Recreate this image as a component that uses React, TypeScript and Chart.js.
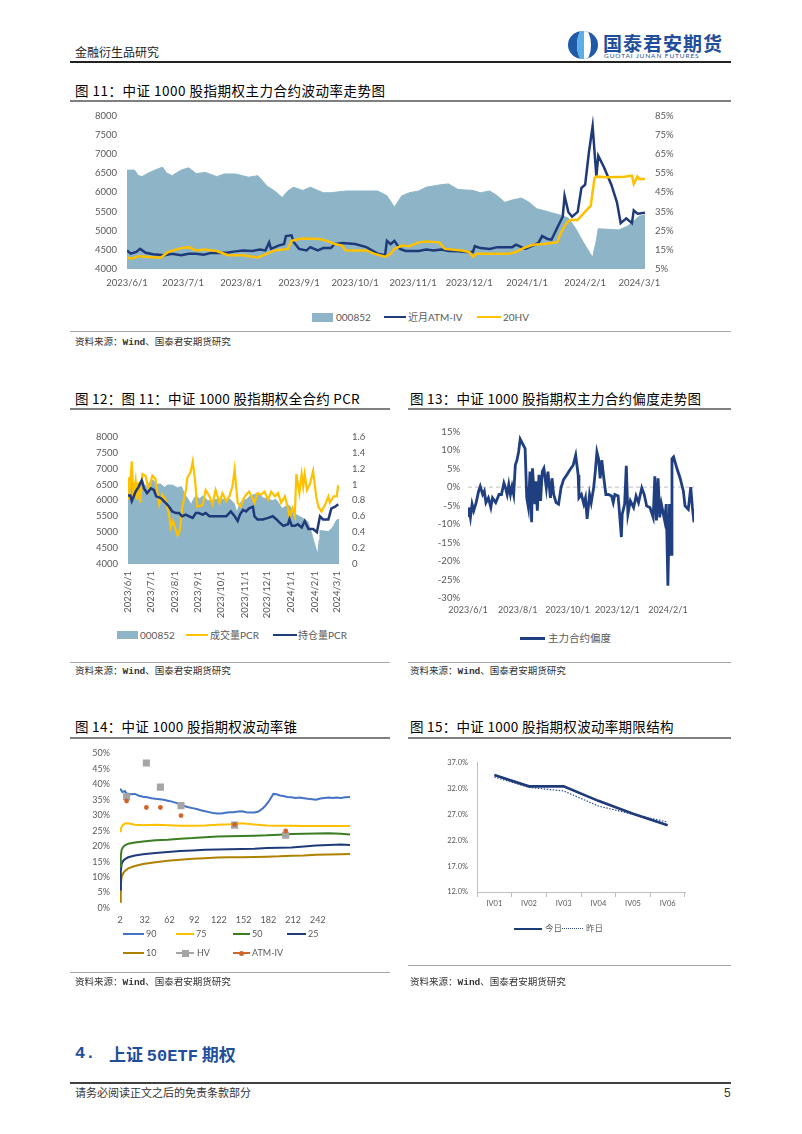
import React, { useEffect, useRef } from "react";
import { Chart, registerables } from "chart.js";

Chart.register(...registerables);

// ---------------- data ----------------
// Chart 11 / 12: CSI 1000 index (000852)
const idxDates = ["2023/6/1","2023/6/5","2023/6/7","2023/6/9","2023/6/13","2023/6/19","2023/6/20","2023/6/22","2023/6/25","2023/6/30","2023/7/4","2023/7/8","2023/7/13","2023/7/19","2023/7/23","2023/7/29","2023/8/5","2023/8/10","2023/8/15","2023/8/19","2023/8/23","2023/8/26","2023/8/29","2023/9/3","2023/9/7","2023/9/14","2023/9/18","2023/9/26","2023/10/13","2023/10/18","2023/10/22","2023/10/26","2023/10/30","2023/11/4","2023/11/8","2023/11/16","2023/11/20","2023/11/25","2023/12/3","2023/12/7","2023/12/12","2023/12/16","2023/12/20","2023/12/24","2023/12/29","2024/1/2","2024/1/6","2024/1/14","2024/1/19","2024/1/23","2024/1/27","2024/1/31","2024/2/5","2024/2/7","2024/2/8","2024/2/19","2024/2/23","2024/2/26","2024/2/28","2024/3/1","2024/3/4"];
const idxValues = [6580,6580,6440,6410,6520,6640,6660,6510,6435,6580,6640,6490,6520,6410,6480,6480,6395,6435,6160,6035,5865,6035,6135,6050,6135,5990,5990,6035,6035,5910,5615,5910,5990,6035,6135,6200,6220,6075,6050,5990,6035,5910,5740,5800,5850,5740,5575,5470,5400,5330,5050,4700,4300,4750,5050,5020,5100,5200,5300,5380,5405];

// Chart 11: near-month ATM implied vol (%)
const ivDates = ["2023/6/1","2023/6/3","2023/6/6","2023/6/8","2023/6/11","2023/6/15","2023/6/21","2023/6/25","2023/6/30","2023/7/4","2023/7/8","2023/7/12","2023/7/16","2023/7/21","2023/7/25","2023/7/29","2023/8/2","2023/8/7","2023/8/11","2023/8/14","2023/8/16","2023/8/17","2023/8/21","2023/8/24","2023/8/25","2023/8/28","2023/8/29","2023/9/1","2023/9/5","2023/9/7","2023/9/11","2023/9/14","2023/9/18","2023/9/20","2023/9/24","2023/10/1","2023/10/7","2023/10/13","2023/10/17","2023/10/18","2023/10/20","2023/10/22","2023/10/25","2023/10/28","2023/11/4","2023/11/8","2023/11/12","2023/11/16","2023/11/20","2023/11/25","2023/11/29","2023/12/3","2023/12/4","2023/12/7","2023/12/12","2023/12/16","2023/12/20","2023/12/24","2023/12/26","2023/12/31","2024/1/4","2024/1/7","2024/1/9","2024/1/12","2024/1/14","2024/1/17","2024/1/20","2024/1/21","2024/1/23","2024/1/25","2024/1/28","2024/1/30","2024/2/1","2024/2/3","2024/2/5","2024/2/7","2024/2/8","2024/2/11","2024/2/15","2024/2/18","2024/2/20","2024/2/23","2024/2/26","2024/2/27","2024/2/29","2024/3/4"];
const ivValues = [14.7,13.0,13.9,15.5,13.5,12.7,12.2,13.0,12.2,13.0,13.0,12.5,13.4,13.4,13.6,14.2,14.7,14.4,15.2,14.7,18.9,15.5,17.2,18.0,22.2,22.6,19.2,15.5,14.7,16.4,14.7,15.9,15.9,18.0,18.6,18.0,16.4,13.0,12.2,19.7,18.0,19.7,15.5,14.4,14.4,15.2,14.7,15.2,14.4,14.2,13.9,13.9,16.9,15.9,15.5,16.4,16.4,16.4,17.7,15.5,17.2,18.6,22.2,20.6,20.3,26.4,32.3,43.2,34.8,32.3,34.8,47.3,49.0,65.8,79.5,53.2,64.1,58.2,49.0,39.8,28.9,31.4,28.9,35.6,33.9,34.3];

// Chart 11: 20-day historical vol (%)
const hvDates = ["2023/6/1","2023/6/4","2023/6/7","2023/6/13","2023/6/19","2023/6/23","2023/6/30","2023/7/4","2023/7/8","2023/7/12","2023/7/19","2023/7/25","2023/8/2","2023/8/10","2023/8/15","2023/8/19","2023/8/26","2023/8/28","2023/9/1","2023/9/5","2023/9/12","2023/9/16","2023/9/20","2023/9/24","2023/9/26","2023/10/7","2023/10/11","2023/10/17","2023/10/20","2023/10/22","2023/10/26","2023/10/30","2023/11/4","2023/11/8","2023/11/15","2023/11/18","2023/11/27","2023/12/1","2023/12/3","2023/12/5","2023/12/16","2023/12/22","2023/12/26","2023/12/30","2024/1/4","2024/1/10","2024/1/17","2024/1/19","2024/1/22","2024/1/24","2024/1/28","2024/1/31","2024/2/4","2024/2/6","2024/2/7","2024/2/13","2024/2/22","2024/2/26","2024/2/27","2024/2/29","2024/3/1","2024/3/4"];
const hvValues = [10.9,10.5,11.7,11.2,10.9,13.9,15.9,16.4,14.7,15.2,14.4,12.2,12.2,11.0,13.0,14.7,15.5,19.7,20.6,20.9,20.6,19.7,18.0,17.2,14.7,14.7,13.0,11.4,13.0,15.5,17.2,16.9,18.9,19.4,18.9,15.5,14.7,13.9,11.4,13.0,13.0,13.0,13.9,15.9,17.6,18.0,18.9,23.9,28.9,30.6,30.6,33.9,38.1,52.4,53.2,52.9,53.2,53.7,49.4,53.2,52.0,52.0];

const monthTicks = ["2023/6/1","2023/7/1","2023/8/1","2023/9/1","2023/10/1","2023/11/1","2023/12/1","2024/1/1","2024/2/1","2024/3/1"];

// Chart 12: PCR
const pcrVolDates = ["2023/6/1","2023/6/2","2023/6/4","2023/6/6","2023/6/8","2023/6/11","2023/6/13","2023/6/15","2023/6/17","2023/6/20","2023/6/24","2023/6/28","2023/7/3","2023/7/7","2023/7/12","2023/7/16","2023/7/20","2023/7/25","2023/7/27","2023/7/30","2023/8/3","2023/8/5","2023/8/8","2023/8/11","2023/8/16","2023/8/18","2023/8/22","2023/8/25","2023/8/28","2023/8/31","2023/9/7","2023/9/11","2023/9/16","2023/9/20","2023/9/24","2023/9/29","2023/10/3","2023/10/8","2023/10/12","2023/10/16","2023/10/19","2023/10/21","2023/10/23","2023/10/27","2023/10/30","2023/11/3","2023/11/7","2023/11/12","2023/11/14","2023/11/18","2023/11/23","2023/11/27","2023/12/2","2023/12/6","2023/12/11","2023/12/15","2023/12/19","2023/12/24","2023/12/28","2023/12/30","2024/1/3","2024/1/6","2024/1/8","2024/1/12","2024/1/15","2024/1/17","2024/1/19","2024/1/22","2024/1/26","2024/1/30","2024/2/3","2024/2/6","2024/2/10","2024/2/15","2024/2/19","2024/2/21","2024/2/26","2024/3/1","2024/3/3"];
const pcrVolValues = [1.09,0.81,1.03,1.29,0.85,1.05,0.81,1.03,0.77,1.13,1.11,0.93,1.11,1.07,0.75,0.87,0.81,0.62,0.46,0.54,0.42,0.36,0.42,0.70,0.93,1.09,1.15,1.29,1.05,0.72,0.74,0.93,0.85,0.75,0.93,0.77,0.89,0.79,0.85,0.97,1.19,0.97,0.77,0.72,0.81,0.87,0.91,0.81,0.77,0.89,0.87,0.91,0.81,0.91,0.85,0.89,0.77,0.85,0.70,0.60,0.70,0.60,1.13,0.89,1.13,0.97,1.13,0.93,1.01,1.17,0.85,0.72,0.66,0.75,0.85,0.77,0.85,0.85,0.99];
const pcrOiDates = ["2023/6/1","2023/6/4","2023/6/6","2023/6/11","2023/6/15","2023/6/19","2023/6/22","2023/6/26","2023/7/1","2023/7/5","2023/7/8","2023/7/14","2023/7/20","2023/7/25","2023/7/29","2023/8/3","2023/8/7","2023/8/11","2023/8/16","2023/8/20","2023/8/25","2023/8/29","2023/9/2","2023/9/7","2023/9/11","2023/9/16","2023/9/20","2023/9/29","2023/10/8","2023/10/14","2023/10/19","2023/10/23","2023/10/26","2023/10/30","2023/11/3","2023/11/7","2023/11/12","2023/11/14","2023/11/18","2023/11/25","2023/12/2","2023/12/8","2023/12/13","2023/12/17","2023/12/22","2023/12/28","2023/12/30","2024/1/2","2024/1/6","2024/1/10","2024/1/15","2024/1/19","2024/1/24","2024/1/30","2024/2/4","2024/2/8","2024/2/12","2024/2/19","2024/2/23","2024/2/28","2024/3/3"];
const pcrOiValues = [0.86,0.86,0.79,0.91,0.97,1.05,0.95,0.89,0.95,0.93,0.85,0.83,0.77,0.72,0.66,0.64,0.64,0.60,0.62,0.60,0.58,0.64,0.64,0.62,0.64,0.60,0.60,0.60,0.60,0.66,0.60,0.54,0.62,0.68,0.66,0.70,0.72,0.60,0.56,0.56,0.58,0.60,0.56,0.52,0.48,0.50,0.56,0.48,0.48,0.50,0.46,0.54,0.44,0.44,0.40,0.60,0.56,0.56,0.70,0.72,0.75];

// Chart 13: main contract skew (%)
const skewDates = ["2023/6/1","2023/6/2","2023/6/4","2023/6/6","2023/6/8","2023/6/11","2023/6/14","2023/6/16","2023/6/19","2023/6/21","2023/6/23","2023/6/26","2023/6/29","2023/7/1","2023/7/5","2023/7/9","2023/7/12","2023/7/15","2023/7/17","2023/7/19","2023/7/21","2023/7/23","2023/7/25","2023/7/27","2023/7/29","2023/7/31","2023/8/2","2023/8/4","2023/8/7","2023/8/10","2023/8/12","2023/8/14","2023/8/16","2023/8/18","2023/8/19","2023/8/22","2023/8/23","2023/8/25","2023/8/27","2023/8/29","2023/8/31","2023/9/2","2023/9/5","2023/9/7","2023/9/10","2023/9/12","2023/9/14","2023/9/17","2023/9/20","2023/9/23","2023/9/26","2023/9/30","2023/10/4","2023/10/8","2023/10/11","2023/10/14","2023/10/15","2023/10/18","2023/10/21","2023/10/23","2023/10/25","2023/10/28","2023/10/30","2023/11/2","2023/11/4","2023/11/6","2023/11/8","2023/11/10","2023/11/12","2023/11/14","2023/11/17","2023/11/20","2023/11/24","2023/11/26","2023/11/28","2023/12/2","2023/12/6","2023/12/7","2023/12/10","2023/12/12","2023/12/14","2023/12/17","2023/12/21","2023/12/24","2023/12/27","2023/12/31","2024/1/3","2024/1/6","2024/1/10","2024/1/14","2024/1/16","2024/1/18","2024/1/20","2024/1/22","2024/1/24","2024/1/28","2024/1/30","2024/2/1","2024/2/3","2024/2/5","2024/2/6","2024/2/8","2024/2/12","2024/2/16","2024/2/20","2024/2/22","2024/2/26","2024/2/29","2024/3/2","2024/3/4"];
const skewValues = [-7.7,-5.5,-8.2,-4.6,-6.4,-4.2,-1.1,0.2,-2.0,-1.1,-4.2,-2.9,-5.5,-2.9,-4.2,-2.0,-2.0,1.1,-0.2,-2.0,0.7,-2.0,0.2,-2.0,6.0,7.3,9.5,13.0,11.7,10.4,-2.9,-5.5,4.2,-9.5,5.1,-4.6,1.6,-6.4,3.3,-3.7,4.2,5.1,-0.2,4.2,-2.9,2.4,-2.0,-4.2,-4.6,-0.2,2.0,3.3,4.7,6.0,8.6,3.3,-2.9,-2.0,-4.6,-2.9,-8.6,-2.0,-4.2,-0.2,4.2,9.5,7.7,2.4,7.3,3.3,-2.0,-2.0,-2.4,-4.2,-2.0,-2.4,-13.5,-7.3,-4.6,5.8,-7.3,-3.7,-5.5,-2.4,-4.2,-0.2,-2.0,-5.1,-5.5,-8.2,2.9,-9.0,2.4,-8.2,-4.6,-9.0,-4.6,-26.7,-4.6,-18.2,7.7,8.2,5.1,2.4,-1.1,-5.1,-6.0,0.0,-5.5,-9.5];
const skewTicks = ["2023/6/1","2023/8/1","2023/10/1","2023/12/1","2024/2/1"];

// Chart 14: volatility cone (days to expiry, %)
const coneTicks = [2, 32, 62, 92, 122, 152, 182, 212, 242];
const cone90Days = [2,5,8,10,15,20,25,30,35,40,45,50,55,60,65,70,75,80,85,90,95,100,105,110,115,120,125,130,135,140,145,150,155,160,165,170,175,178,182,185,188,192,196,200,205,210,215,220,225,230,235,240,245,250,255,260,265,270,275,281];
const cone90 = [38.6,37.5,37.8,37.0,36.8,36.9,36.3,36.0,35.8,35.5,35.3,35.2,35.0,34.7,34.4,34.0,33.5,33.0,32.6,32.3,32.0,31.6,31.3,31.0,30.7,30.6,30.6,30.8,31.0,31.0,31.2,31.3,31.0,30.9,30.9,31.2,32.2,33.0,34.3,35.6,36.9,36.8,36.4,36.2,35.9,35.8,35.6,35.7,35.5,35.3,35.2,35.0,35.4,35.6,35.7,35.6,35.7,35.6,35.8,35.9];
const coneDays = [2,3,4,6,8,12,20,30,45,60,75,90,105,120,135,150,165,180,195,210,225,240,255,270,281];
const cone75 = [24.8,25.6,26.3,27.0,27.3,27.4,26.9,26.8,26.9,26.8,26.6,26.6,26.7,26.9,27.1,27.4,27.0,26.7,26.6,26.6,26.5,26.5,26.5,26.5,26.5];
const cone50 = [13.5,17.0,18.8,19.8,20.3,20.8,21.2,21.5,21.9,22.1,22.4,22.6,22.9,23.1,23.2,23.3,23.4,23.5,23.7,23.9,24.0,24.1,24.2,24.0,23.8];
const cone25 = [6.0,12.0,14.3,15.3,15.8,16.4,17.0,17.4,17.8,18.1,18.4,18.6,18.8,18.9,19.0,19.1,19.2,19.4,19.5,19.6,19.9,20.2,20.4,20.5,20.4];
const cone10 = [2.0,7.5,10.0,11.3,12.0,12.8,13.6,14.2,14.8,15.3,15.6,15.9,16.1,16.3,16.4,16.4,16.5,16.6,16.7,16.9,17.0,17.2,17.3,17.4,17.5];
const coneMarkDays = [10, 34, 51, 76, 141, 203];
const coneHV = [36.0, 46.9, 39.1, 33.1, 26.8, 23.5];
const coneATM = [34.6, 32.5, 32.5, 29.9, 27.0, 24.9];

// Chart 15: term structure (%)
const termLabels = ["IV01", "IV02", "IV03", "IV04", "IV05", "IV06"];
const termToday = [34.6, 32.4, 32.4, 29.6, 27.1, 24.9];
const termYesterday = [34.2, 32.2, 31.5, 28.6, 27.0, 25.5];

// ---------------- helpers ----------------
const BASE = Date.UTC(2023, 5, 1);
function dayOf(s: string): number {
  const [y, m, d] = s.split("/").map(Number);
  return Math.round((Date.UTC(y, m - 1, d) - BASE) / 86400000);
}
function fmtDay(v: number): string {
  const dt = new Date(BASE + Math.round(v) * 86400000);
  return `${dt.getUTCFullYear()}/${dt.getUTCMonth() + 1}/${dt.getUTCDate()}`;
}
const datePts = (dates: string[], vals: number[]) => dates.map((d, i) => ({ x: dayOf(d), y: vals[i] }));
const numPts = (xs: number[], vals: number[]) => xs.map((x, i) => ({ x, y: vals[i] }));

const NAVY = "#1F3A78";
const GOLD = "#FFC000";
const AREA = "#8DB5C7";
const TICK = "#595959";
const BLUE = "#4472C4";
const GREEN = "#3A7D22";
const BROWN = "#AE8200";
const GRAY = "#A5A5A5";
const ORANGE = "#D0652C";
const CJK = '"Noto Sans CJK SC", sans-serif';
const LAT = 'Lato, "Noto Sans CJK SC", sans-serif';

Chart.defaults.font.family = LAT;
Chart.defaults.color = TICK;

const fixW = (w: number) => (s: any) => { s.width = w; };
const fixH = (h: number) => (s: any) => { s.height = h; };
const NOGRID = { display: false, drawTicks: false };
const OFF = { display: false };
const plain = (v: any) => String(v);

function baseOpts(padding: any) {
  return {
    responsive: false,
    maintainAspectRatio: false,
    animation: false,
    layout: { padding },
    plugins: { legend: { display: false }, tooltip: { enabled: false } },
    elements: { point: { radius: 0 }, line: { tension: 0 } },
  };
}

const zeroLine = {
  id: "zeroLine",
  beforeDatasetsDraw(chart: any) {
    const { ctx, chartArea, scales } = chart;
    const py = scales.y.getPixelForValue(0);
    ctx.save();
    ctx.strokeStyle = "#BFBFBF";
    ctx.lineWidth = 1;
    ctx.setLineDash([4, 3]);
    ctx.beginPath();
    ctx.moveTo(chartArea.left, py);
    ctx.lineTo(chartArea.right, py);
    ctx.stroke();
    ctx.restore();
  },
};

// ---------------- chart configs ----------------
function cfg11(): any {
  const last = dayOf(idxDates[idxDates.length - 1]);
  return {
    type: "line",
    data: {
      datasets: [
        { label: "20HV", data: datePts(hvDates, hvValues), yAxisID: "y1", borderColor: GOLD, borderWidth: 2.5, order: 1 },
        { label: "近月ATM-IV", data: datePts(ivDates, ivValues), yAxisID: "y1", borderColor: NAVY, borderWidth: 2.5, order: 2 },
        { label: "000852", data: datePts(idxDates, idxValues), yAxisID: "y", borderColor: AREA, borderWidth: 1, backgroundColor: AREA, fill: "start", order: 3 },
      ],
    },
    options: {
      ...baseOpts({ top: 10, left: 0, right: 0, bottom: 0 }),
      scales: {
        x: {
          type: "linear", min: 0, max: last,
          afterBuildTicks: (s: any) => { s.ticks = monthTicks.map((d) => ({ value: dayOf(d) })); },
          ticks: { autoSkip: false, maxRotation: 0, padding: 8, font: { size: 9.5 }, callback: (v: any) => fmtDay(v) },
          grid: NOGRID, border: OFF, afterFit: fixH(26),
        },
        y: {
          position: "left", min: 4000, max: 8000,
          ticks: { stepSize: 500, padding: 10, font: { size: 9.5 }, callback: plain },
          grid: NOGRID, border: OFF, afterFit: fixW(52),
        },
        y1: {
          position: "right", min: 5, max: 85,
          ticks: { stepSize: 10, padding: 10, font: { size: 9.5 }, callback: (v: any) => `${v}%` },
          grid: NOGRID, border: OFF, afterFit: fixW(50),
        },
      },
    },
  };
}

function cfg12(): any {
  const last = dayOf(idxDates[idxDates.length - 1]);
  return {
    type: "line",
    data: {
      datasets: [
        { label: "持仓量PCR", data: datePts(pcrOiDates, pcrOiValues), yAxisID: "y1", borderColor: NAVY, borderWidth: 2.5, order: 1 },
        { label: "成交量PCR", data: datePts(pcrVolDates, pcrVolValues), yAxisID: "y1", borderColor: GOLD, borderWidth: 2.2, order: 2 },
        { label: "000852", data: datePts(idxDates, idxValues), yAxisID: "y", borderColor: AREA, borderWidth: 1, backgroundColor: AREA, fill: "start", order: 3 },
      ],
    },
    options: {
      ...baseOpts({ top: 10, left: 0, right: 0, bottom: 0 }),
      scales: {
        x: {
          type: "linear", min: 0, max: last,
          afterBuildTicks: (s: any) => { s.ticks = monthTicks.map((d) => ({ value: dayOf(d) })); },
          ticks: { autoSkip: false, minRotation: 90, maxRotation: 90, padding: 7, font: { size: 9.5 }, callback: (v: any) => fmtDay(v) },
          grid: NOGRID, border: OFF, afterFit: fixH(56),
        },
        y: {
          position: "left", min: 4000, max: 8000,
          ticks: { stepSize: 500, padding: 10, font: { size: 9.5 }, callback: plain },
          grid: NOGRID, border: OFF, afterFit: fixW(53),
        },
        y1: {
          position: "right", min: 0, max: 1.6,
          ticks: { stepSize: 0.2, padding: 13, font: { size: 9.5 }, callback: (v: any) => (Math.abs(v) < 1e-9 ? "0" : Number(v).toFixed(1).replace(/\.0$/, "")) },
          grid: NOGRID, border: OFF, afterFit: fixW(36),
        },
      },
    },
  };
}

function cfg13(): any {
  const last = dayOf(skewDates[skewDates.length - 1]);
  return {
    type: "line",
    data: {
      datasets: [
        { label: "主力合约偏度", data: datePts(skewDates, skewValues), borderColor: "#203F80", borderWidth: 2.8 },
      ],
    },
    options: {
      ...baseOpts({ top: 9, left: 0, right: 11, bottom: 0 }),
      scales: {
        x: {
          type: "linear", min: 0, max: last,
          afterBuildTicks: (s: any) => { s.ticks = skewTicks.map((d) => ({ value: dayOf(d) })); },
          ticks: { autoSkip: false, maxRotation: 0, padding: 7, font: { size: 9 }, callback: (v: any) => fmtDay(v) },
          grid: NOGRID, border: OFF, afterFit: fixH(22),
        },
        y: {
          min: -30, max: 15,
          ticks: { stepSize: 5, padding: 8, font: { size: 9.5 }, callback: (v: any) => `${v}%` },
          grid: NOGRID, border: OFF, afterFit: fixW(63),
        },
      },
    },
    plugins: [zeroLine],
  };
}

function cfg14(): any {
  return {
    type: "line",
    data: {
      datasets: [
        { label: "ATM-IV", data: numPts(coneMarkDays, coneATM), showLine: false, pointStyle: "circle", pointRadius: 2.4, pointBackgroundColor: ORANGE, pointBorderWidth: 0, order: 1 },
        { label: "HV", data: numPts(coneMarkDays, coneHV), showLine: false, pointStyle: "rect", pointRadius: 5, pointBackgroundColor: GRAY, pointBorderWidth: 0, order: 2 },
        { label: "90", data: numPts(cone90Days, cone90), borderColor: BLUE, borderWidth: 2, order: 3 },
        { label: "75", data: numPts(coneDays, cone75), borderColor: GOLD, borderWidth: 2, order: 4 },
        { label: "50", data: numPts(coneDays, cone50), borderColor: GREEN, borderWidth: 2, order: 5 },
        { label: "25", data: numPts(coneDays, cone25), borderColor: NAVY, borderWidth: 2, order: 6 },
        { label: "10", data: numPts(coneDays, cone10), borderColor: BROWN, borderWidth: 2, order: 7 },
      ],
    },
    options: {
      ...baseOpts({ top: 9, left: 0, right: 10, bottom: 0 }),
      scales: {
        x: {
          type: "linear", min: 2, max: 281,
          afterBuildTicks: (s: any) => { s.ticks = coneTicks.map((v) => ({ value: v })); },
          ticks: { autoSkip: false, maxRotation: 0, padding: 7, font: { size: 9 }, callback: plain },
          grid: NOGRID, border: OFF, afterFit: fixH(22),
        },
        y: {
          min: 0, max: 50,
          ticks: { stepSize: 5, padding: 10, font: { size: 9 }, callback: (v: any) => `${v}%` },
          grid: NOGRID, border: OFF, afterFit: fixW(45),
        },
      },
    },
  };
}

function cfg15(): any {
  return {
    type: "line",
    data: {
      labels: termLabels,
      datasets: [
        { label: "今日", data: termToday, borderColor: NAVY, borderWidth: 2.6, order: 1 },
        { label: "昨日", data: termYesterday, borderColor: "#2F4B8C", borderWidth: 1.2, borderDash: [1.5, 1.5], order: 2 },
      ],
    },
    options: {
      ...baseOpts({ top: 10, left: 0, right: 15, bottom: 0 }),
      scales: {
        x: {
          type: "category", offset: true,
          ticks: { padding: 2, font: { size: 7.5 } },
          grid: { offset: true, drawOnChartArea: false, drawTicks: true, tickLength: 5, color: "#BFBFBF" },
          border: { display: true, color: "#BFBFBF" },
          afterFit: fixH(25),
        },
        y: {
          min: 12, max: 37,
          ticks: { stepSize: 5, padding: 9, font: { size: 7.5 }, callback: (v: any) => `${Number(v).toFixed(1)}%` },
          grid: { drawOnChartArea: false, drawTicks: false },
          border: { display: true, color: "#BFBFBF" },
          afterFit: fixW(72),
        },
      },
    },
  };
}

// ---------------- components ----------------
function ChartCanvas({ x, y, w, h, make }: any) {
  const ref = useRef<HTMLCanvasElement>(null);
  useEffect(() => {
    const c = new Chart(ref.current as HTMLCanvasElement, make());
    return () => c.destroy();
  }, []);
  return <canvas ref={ref} width={w} height={h} style={{ position: "absolute", left: x, top: y, width: w, height: h }} />;
}

function T({ x, y, s, c = "#000", w = 400, f = CJK, ls = 0, children }: any) {
  return (
    <div style={{ position: "absolute", left: x, top: y - s * 0.7, fontSize: s, lineHeight: `${s * 1.4}px`, color: c, fontWeight: w, fontFamily: f, letterSpacing: ls, whiteSpace: "nowrap" }}>
      {children}
    </div>
  );
}
function HL({ x1, x2, y, c, t }: any) {
  return <div style={{ position: "absolute", left: x1, top: y - t / 2, width: x2 - x1, height: t, background: c }} />;
}
function Dotted({ x1, x2, y, c, t }: any) {
  return <div style={{ position: "absolute", left: x1, top: y - t / 2, width: x2 - x1, height: 0, borderTop: `${t}px dotted ${c}` }} />;
}
function Box({ x1, x2, y, h, c, r = 0 }: any) {
  return <div style={{ position: "absolute", left: x1, top: y - h / 2, width: x2 - x1, height: h, background: c, borderRadius: r }} />;
}
function LT({ x, y, s, children }: any) {
  return <T x={x} y={y} s={s} c="#595959" f={LAT}>{children}</T>;
}
function Src({ x, y }: any) {
  return (
    <T x={x} y={y} s={9.5} c="#333">
      资料来源：<span style={{ fontFamily: '"Liberation Mono", monospace', fontWeight: 700 }}>Wind</span>、国泰君安期货研究
    </T>
  );
}
function Logo() {
  return (
    <>
      <div style={{ position: "absolute", left: 568, top: 31, width: 30, height: 28, borderRadius: "50%", background: "#1F5AA6", overflow: "hidden" }}>
        <div style={{ position: "absolute", left: 9, top: -2, width: 14, height: 32, borderRadius: "50%", background: "#fff" }} />
        <div style={{ position: "absolute", left: 9, top: -2, width: 7, height: 32, borderRadius: "7px 0 0 7px / 16px 0 0 16px", background: "#5AB0E6" }} />
      </div>
      <T x={603} y={43} s={19} w={700} c="#1F4E9C" ls={1}>国泰君安期货</T>
      <T x={604} y={56} s={6.5} c="#1F4E9C" f={LAT} ls={0.9}>GUOTAI JUNAN FUTURES</T>
    </>
  );
}

export default function App() {
  return (
    <div style={{ position: "absolute", left: 0, top: 0, width: 802, height: 1134, overflow: "hidden", background: "#fff" }}>
      {/* header */}
      <T x={75} y={52} s={12} c="#222">金融衍生品研究</T>
      <Logo />
      <HL x1={70} x2={731} y={62} c="#222" t={1.5} />

      {/* figure 11 */}
      <T x={75} y={90} s={13.5} ls={0.5}>图 11：中证 1000 股指期权主力合约波动率走势图</T>
      <HL x1={70} x2={731} y={101} c="#808080" t={1.5} />
      <ChartCanvas x={75} y={100} w={620} h={195} make={cfg11} />
      <Box x1={312} x2={333} y={317} h={9} c={AREA} />
      <LT x={336} y={317} s={10}>000852</LT>
      <HL x1={384} x2={406} y={317} c={NAVY} t={2.5} />
      <LT x={408} y={317} s={10}>近月ATM-IV</LT>
      <HL x1={477} x2={501} y={317} c={GOLD} t={2.5} />
      <LT x={503} y={317} s={10}>20HV</LT>
      <HL x1={70} x2={731} y={331} c="#A6A6A6" t={1} />
      <Src x={75} y={342} />

      {/* figure 12 */}
      <T x={75} y={398} s={13.5} ls={0.3}>图 12：图 11：中证 1000 股指期权全合约 PCR</T>
      <HL x1={70} x2={390} y={409} c="#808080" t={1.5} />
      <ChartCanvas x={75} y={418} w={300} h={202} make={cfg12} />
      <Box x1={117} x2={138} y={635} h={8} c={AREA} />
      <LT x={140} y={635} s={10}>000852</LT>
      <HL x1={186} x2={208} y={635} c={GOLD} t={2.5} />
      <LT x={210} y={635} s={10}>成交量PCR</LT>
      <HL x1={273} x2={297} y={635} c={NAVY} t={2.5} />
      <LT x={298} y={635} s={10}>持仓量PCR</LT>
      <HL x1={70} x2={390} y={662} c="#A6A6A6" t={1} />
      <Src x={75} y={671} />

      {/* figure 13 */}
      <T x={410} y={398} s={13.5} ls={0.3}>图 13：中证 1000 股指期权主力合约偏度走势图</T>
      <HL x1={408} x2={731} y={409} c="#808080" t={1.5} />
      <ChartCanvas x={405} y={418} w={300} h={202} make={cfg13} />
      <HL x1={520} x2={545} y={638} c="#203F80" t={3} />
      <LT x={548} y={638} s={10.5}>主力合约偏度</LT>
      <HL x1={408} x2={731} y={662} c="#A6A6A6" t={1} />
      <Src x={410} y={671} />

      {/* figure 14 */}
      <T x={75} y={726} s={13.5} ls={0.3}>图 14：中证 1000 股指期权波动率锥</T>
      <HL x1={70} x2={390} y={738} c="#808080" t={1.5} />
      <ChartCanvas x={75} y={738} w={285} h={192} make={cfg14} />
      <HL x1={123} x2={144} y={934} c={BLUE} t={2} />
      <LT x={146} y={934} s={9}>90</LT>
      <HL x1={176} x2={194} y={934} c={GOLD} t={2} />
      <LT x={196} y={934} s={9}>75</LT>
      <HL x1={233} x2={250} y={934} c={GREEN} t={2} />
      <LT x={252} y={934} s={9}>50</LT>
      <HL x1={287} x2={306} y={934} c={NAVY} t={2} />
      <LT x={308} y={934} s={9}>25</LT>
      <HL x1={123} x2={144} y={953} c={BROWN} t={2} />
      <LT x={146} y={953} s={9}>10</LT>
      <HL x1={176} x2={194} y={953} c={GRAY} t={2} />
      <Box x1={182} x2={189} y={953} h={7} c={GRAY} />
      <LT x={197} y={953} s={9}>HV</LT>
      <HL x1={233} x2={250} y={953} c={ORANGE} t={2} />
      <Box x1={239} x2={244} y={953} h={5} c={ORANGE} r={3} />
      <LT x={252} y={953} s={9}>ATM-IV</LT>
      <HL x1={70} x2={390} y={972} c="#A6A6A6" t={1} />
      <Src x={75} y={982} />

      {/* figure 15 */}
      <T x={410} y={726} s={13.5} ls={0.3}>图 15：中证 1000 股指期权波动率期限结构</T>
      <HL x1={408} x2={731} y={738} c="#808080" t={1.5} />
      <ChartCanvas x={405} y={749} w={295} h={168} make={cfg15} />
      <HL x1={514} x2={542} y={929} c={NAVY} t={2.6} />
      <LT x={545} y={929} s={8.5}>今日</LT>
      <Dotted x1={562} x2={583} y={929} c="#2F4B8C" t={1.3} />
      <LT x={586} y={929} s={8.5}>昨日</LT>
      <HL x1={408} x2={731} y={965} c="#A6A6A6" t={1} />
      <Src x={410} y={982} />

      {/* section + footer */}
      <T x={75} y={1054} s={17} w={700} c="#1F4E9B" f={'"Liberation Mono", "Noto Sans CJK SC", monospace'}>4.</T>
      <T x={109} y={1054} s={17} w={700} c="#1F4E9B">上证 <span style={{ fontFamily: '"Liberation Mono", monospace' }}>50ETF</span> 期权</T>
      <HL x1={70} x2={731} y={1083} c="#404040" t={1.5} />
      <T x={75} y={1093} s={11} c="#333">请务必阅读正文之后的免责条款部分</T>
      <T x={724} y={1093} s={12} c="#333" f={'"Liberation Sans", sans-serif'}>5</T>
    </div>
  );
}
